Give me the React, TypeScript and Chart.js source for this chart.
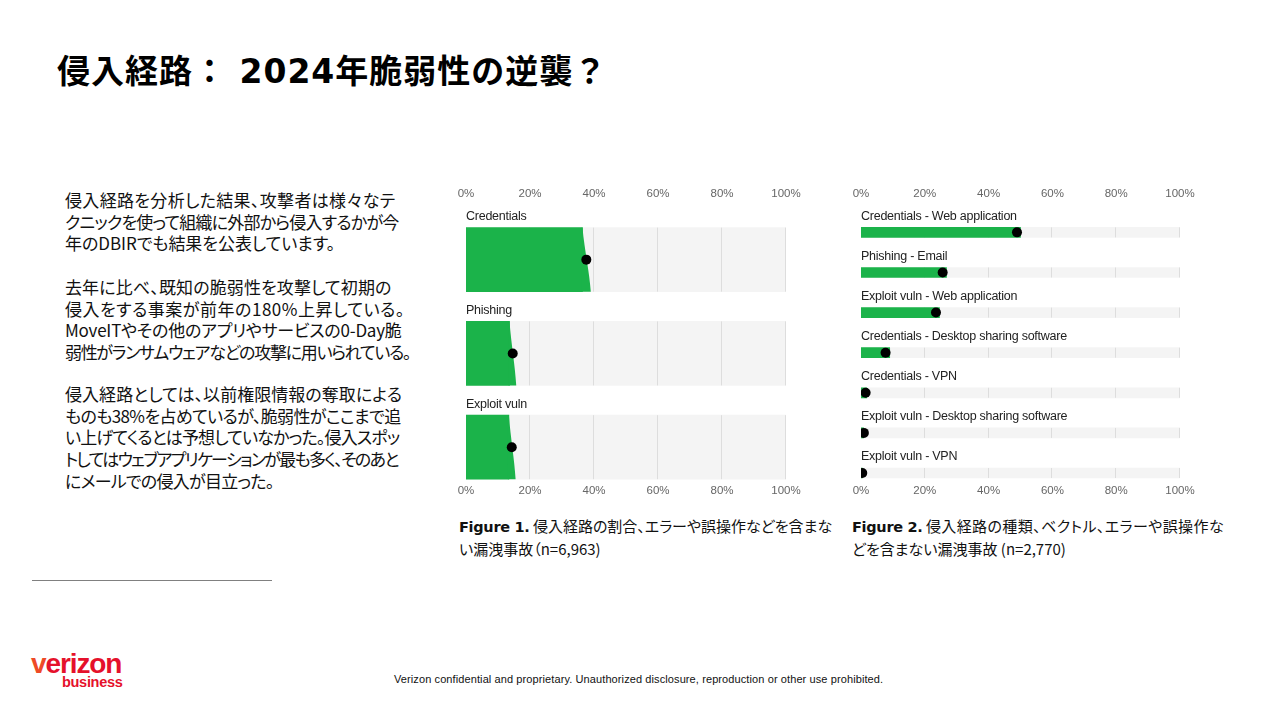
import React, { useEffect, useRef } from "react";
import { Chart, registerables } from "chart.js";

Chart.register(...registerables);

// ---------- data ----------
const fig1Categories = ["Credentials", "Phishing", "Exploit vuln"];
// green slab: right edge at the top and at the bottom of each bar
const fig1EdgeTop = [36.4, 13.6, 13.4];
const fig1EdgeBottom = [39.0, 15.7, 15.5];
const fig1Dot = [37.6, 14.6, 14.3];

const fig2Categories = [
  "Credentials - Web application",
  "Phishing - Email",
  "Exploit vuln - Web application",
  "Credentials - Desktop sharing software",
  "Credentials - VPN",
  "Exploit vuln - Desktop sharing software",
  "Exploit vuln - VPN",
];
const fig2BarEnd = [50.0, 26.8, 24.6, 9.0, 1.8, 0.8, 0.4];
const fig2Dot = [48.9, 25.6, 23.5, 7.7, 1.45, 0.9, 0.4];

const xTicks = [0, 20, 40, 60, 80, 100];

const GREEN = "#1bb34a";
const TRACK = "#f4f4f4";
const GRID = "#dddddd";

const slabPlugin = {
  id: "slabDecor",
  afterDatasetDraw(chart: any, args: any, opts: any) {
    const ds = chart.data.datasets[args.index];
    const ctx = chart.ctx;
    const xs = chart.scales.x;
    const meta = args.meta;
    if (ds.label === "track") {
      ctx.save();
      ctx.strokeStyle = GRID;
      ctx.lineWidth = 1;
      meta.data.forEach((el: any) => {
        const top = el.y - el.height / 2;
        const bot = el.y + el.height / 2;
        xTicks.slice(1).forEach((t) => {
          const px = Math.round(xs.getPixelForValue(t)) - 0.5;
          ctx.beginPath();
          ctx.moveTo(px, top);
          ctx.lineTo(px, bot);
          ctx.stroke();
        });
      });
      ctx.restore();
    }
    if (ds.label === "share" && opts.edgeBottom) {
      const eb: number[] = opts.edgeBottom;
      ctx.save();
      ctx.fillStyle = GREEN;
      meta.data.forEach((el: any, i: number) => {
        const top = el.y - el.height / 2;
        const bot = el.y + el.height / 2;
        const xt = el.x;
        const xb = xs.getPixelForValue(eb[i]);
        ctx.beginPath();
        ctx.moveTo(xt - 1, top);
        ctx.lineTo(xt, top);
        ctx.bezierCurveTo(xt + (xb - xt) * 0.25, top + (bot - top) * 0.35, xb - (xb - xt) * 0.15, top + (bot - top) * 0.7, xb, bot);
        ctx.lineTo(xt - 1, bot);
        ctx.closePath();
        ctx.fill();
      });
      ctx.restore();
    }
  },
  afterDraw(chart: any, _args: any, opts: any) {
    const cats: string[] = opts.categories;
    const gap: number = opts.gap;
    const meta = chart.getDatasetMeta(0);
    const ctx = chart.ctx;
    ctx.save();
    ctx.fillStyle = "#222222";
    ctx.font = '12.5px "Liberation Sans", Arial, sans-serif';
    (ctx as any).letterSpacing = "-0.25px";
    ctx.textBaseline = "middle";
    ctx.textAlign = "left";
    meta.data.forEach((el: any, i: number) => {
      const top = el.y - el.height / 2;
      ctx.fillText(cats[i], chart.chartArea.left, top - gap);
    });
    ctx.restore();
  },
};

function makeConfig(
  cats: string[],
  barEnd: number[],
  dots: number[],
  thickness: number,
  yMin: number,
  yMax: number,
  dotRadius: number,
  edgeBottom: number[] | null
): any {
  const axisTicks = {
    color: "#666666",
    font: { family: '"Liberation Sans", Arial, sans-serif', size: 11.5 },
    padding: 1,
    stepSize: 20,
    maxRotation: 0,
    autoSkip: false,
    callback: (v: any) => v + "%",
  };
  return {
    type: "bar",
    data: {
      datasets: [
        {
          label: "track",
          indexAxis: "y",
          data: cats.map((_, i) => ({ y: i, x: [0, 100] })),
          backgroundColor: TRACK,
          barThickness: thickness,
          grouped: false,
          order: 3,
          xAxisID: "x",
          yAxisID: "y",
        },
        {
          label: "share",
          indexAxis: "y",
          data: cats.map((_, i) => ({ y: i, x: [0, barEnd[i]] })),
          backgroundColor: GREEN,
          barThickness: thickness,
          grouped: false,
          order: 2,
          xAxisID: "x",
          yAxisID: "y",
        },
        {
          label: "point",
          type: "scatter",
          data: cats.map((_, i) => ({ y: i, x: dots[i] })),
          backgroundColor: "#000000",
          borderColor: "#000000",
          pointRadius: dotRadius,
          borderWidth: 0,
          order: 1,
          xAxisID: "x",
          yAxisID: "y",
        },
      ],
    },
    options: {
      animation: false,
      responsive: false,
      maintainAspectRatio: false,
      layout: { padding: { left: 20, right: 20, top: 0, bottom: 0 } },
      plugins: {
        legend: { display: false },
        tooltip: { enabled: false },
        slabDecor: { categories: cats, gap: 11, edgeBottom },
      },
      scales: {
        x: {
          type: "linear",
          position: "top",
          min: 0,
          max: 100,
          offset: false,
          grid: { display: false, drawTicks: false, offset: false },
          border: { display: false },
          ticks: axisTicks,
        },
        x2: {
          type: "linear",
          position: "bottom",
          min: 0,
          max: 100,
          offset: false,
          grid: { display: false, drawTicks: false, offset: false },
          border: { display: false },
          ticks: axisTicks,
        },
        y: {
          type: "linear",
          min: yMin,
          max: yMax,
          reverse: true,
          offset: false,
          grid: { offset: false },
          display: false,
        },
      },
    },
    plugins: [slabPlugin],
  };
}

function SlabChart(props: {
  left: number;
  top: number;
  width: number;
  height: number;
  config: any;
}) {
  const ref = useRef<HTMLCanvasElement | null>(null);
  useEffect(() => {
    if (!ref.current) return;
    const chart = new Chart(ref.current, props.config);
    return () => chart.destroy();
  }, []);
  return (
    <div
      style={{
        position: "absolute",
        left: props.left,
        top: props.top,
        width: props.width,
        height: props.height,
      }}
    >
      <canvas ref={ref} width={props.width} height={props.height} style={{ width: props.width, height: props.height }} />
    </div>
  );
}

const jp = '"Noto Sans CJK JP", "Noto Sans", sans-serif';

function Lines(props: { top: number; lines: [string, number][] }) {
  return (
    <div
      style={{
        position: "absolute",
        left: 65,
        top: props.top,
        fontFamily: jp,
        fontSize: 17,
        lineHeight: "21.7px",
        color: "#111",
        whiteSpace: "nowrap",
        fontFeatureSettings: '"palt"',
      }}
    >
      {props.lines.map(([t, ls], i) => (
        <div key={i} style={{ letterSpacing: ls + "px" }}>
          {t}
        </div>
      ))}
    </div>
  );
}

export default function App() {
  const cfg1 = makeConfig(fig1Categories, fig1EdgeTop, fig1Dot, 64, -0.617, 2.384, 5, fig1EdgeBottom);
  const cfg2 = makeConfig(fig2Categories, fig2BarEnd, fig2Dot, 10, -0.762, 6.254, 5, null);

  const capStyle: React.CSSProperties = {
    position: "absolute",
    fontFamily: jp,
    fontSize: 15,
    lineHeight: "21px",
    color: "#111",
    whiteSpace: "nowrap",
    fontFeatureSettings: '"palt"',
  };
  const figStyle: React.CSSProperties = {
    fontFamily: '"DejaVu Sans", Verdana, sans-serif',
    fontWeight: 700,
    fontSize: 14.5,
    letterSpacing: "-0.3px",
  };

  return (
    <div
      style={{
        position: "fixed",
        left: 0,
        top: 0,
        width: 1280,
        height: 720,
        background: "#ffffff",
        overflow: "hidden",
      }}
    >
      <div
        style={{
          position: "absolute",
          left: 57,
          top: 54,
          fontFamily: '"DejaVu Sans", "Noto Sans CJK JP", sans-serif',
          fontWeight: 700,
          fontSize: 33,
          lineHeight: "36px",
          letterSpacing: "1px",
          color: "#000",
          whiteSpace: "nowrap",
        }}
      >
        侵入経路： 2024年脆弱性の逆襲？
      </div>

      <Lines
        top={189}
        lines={[
          ["侵入経路を分析した結果、攻撃者は様々なテ", 0.33],
          ["クニックを使って組織に外部から侵入するかが今", -0.79],
          ["年のDBIRでも結果を公表しています。", -0.05],
        ]}
      />
      <Lines
        top={276}
        lines={[
          ["去年に比べ、既知の脆弱性を攻撃して初期の", 0.12],
          ["侵入をする事案が前年の180%上昇している。", 0.51],
          ["MoveITやその他のアプリやサービスの0-Day脆", -0.22],
          ["弱性がランサムウェアなどの攻撃に用いられている。", -1.29],
        ]}
      />
      <Lines
        top={383}
        lines={[
          ["侵入経路としては、以前権限情報の奪取による", 0.05],
          ["ものも38%を占めているが、脆弱性がここまで追", -0.62],
          ["い上げてくるとは予想していなかった。侵入スポッ", -0.84],
          ["トしてはウェブアプリケーションが最も多く、そのあと", -1.68],
          ["にメールでの侵入が目立った。", -0.74],
        ]}
      />

      <SlabChart left={446} top={186} width={360} height={313} config={cfg1} />
      <SlabChart left={841} top={186} width={359} height={313} config={cfg2} />

      <div style={{ ...capStyle, left: 459, top: 515 }}>
        <span style={figStyle}>Figure 1.</span> 侵入経路の割合、エラーや誤操作などを含まな<br />
        い漏洩事故（n=6,963)
      </div>
      <div style={{ ...capStyle, left: 852, top: 515 }}>
        <span style={figStyle}>Figure 2.</span>{" "}
        <span style={{ letterSpacing: "0.4px" }}>侵入経路の種類、ベクトル、エラーや誤操作な</span>
        <br />
        どを含まない漏洩事故 (n=2,770)
      </div>

      <div
        style={{
          position: "absolute",
          left: 32,
          top: 580,
          width: 240,
          height: 1,
          background: "#808080",
        }}
      />

      <div
        style={{
          position: "absolute",
          left: 31,
          top: 650,
          fontFamily: '"Liberation Sans", Arial, sans-serif',
          fontWeight: 700,
          fontSize: 28,
          lineHeight: "28px",
          letterSpacing: "-1.1px",
          color: "#e5112b",
          whiteSpace: "nowrap",
        }}
      >
        <span style={{ color: "#ee4a26" }}>v</span>erizon
      </div>
      <div
        style={{
          position: "absolute",
          left: 62,
          top: 674,
          fontFamily: '"Liberation Sans", Arial, sans-serif',
          fontWeight: 700,
          fontSize: 14.5,
          lineHeight: "16px",
          letterSpacing: "-0.3px",
          color: "#e5112b",
          whiteSpace: "nowrap",
        }}
      >
        business
      </div>

      <div
        style={{
          position: "absolute",
          left: 394,
          top: 672,
          fontFamily: '"Liberation Sans", Arial, sans-serif',
          fontSize: 11,
          lineHeight: "14px",
          letterSpacing: "0.1px",
          color: "#111",
          whiteSpace: "nowrap",
        }}
      >
        Verizon confidential and proprietary. Unauthorized disclosure, reproduction or other use prohibited.
      </div>
    </div>
  );
}
